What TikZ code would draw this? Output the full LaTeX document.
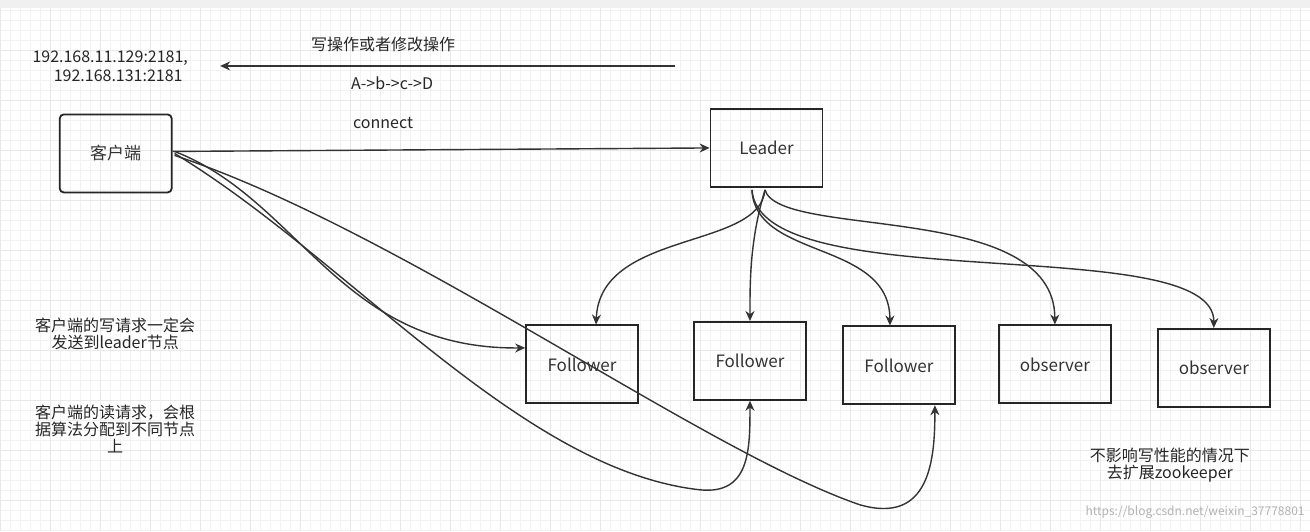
\documentclass[tikz,border=0pt]{standalone}
\usepackage{fontspec}
\setmainfont{Noto Sans CJK SC}
\usetikzlibrary{arrows.meta}
\begin{document}
\begin{tikzpicture}[x=1pt,y=-1pt,
  box/.style={draw=black!85,line width=1.8pt,minimum width=112pt,minimum height=78pt,inner sep=0pt,font=\fontsize{17}{19}\selectfont,text=black!80},
  con/.style={draw=black!80,line width=1.4pt,-{Stealth[length=10pt,width=9pt]}},
  lbl/.style={font=\fontsize{16}{17}\selectfont,text=black!85,inner sep=0pt}]
\fill[white] (0,0) rectangle (1310,531);
\fill[black!6] (0,0) rectangle (1310,8);
\foreach \x in {0,10,...,1310} \draw[black!5,line width=0.4pt] (\x,8) -- (\x,531);
\foreach \y in {10,20,...,530} \draw[black!5,line width=0.4pt] (0,\y) -- (1310,\y);
\foreach \x in {0,50,...,1310} \draw[black!9,line width=0.5pt] (\x,8) -- (\x,531);
\foreach \y in {50,100,...,530} \draw[black!9,line width=0.5pt] (0,\y) -- (1310,\y);
\useasboundingbox (0,0) rectangle (1310,531);

\node[box,rounded corners=4pt] (c) at (115.5,153.5) {客户端};
\node[box] (L) at (766.5,148) {Leader};
\node[box] (f1) at (582,364.5) {Follower};
\node[box] (f2) at (750,361) {Follower};
\node[box] (f3) at (899,365.5) {Follower};
\node[box] (o1) at (1055,364.5) {observer};
\node[box] (o2) at (1214,368) {observer};

\node[lbl] (ip1) at (110,58) {192.168.11.129:2181,};
\node[lbl] (ip2) at (118,76) {192.168.131:2181};
\node[lbl] (w) at (383,44) {写操作或者修改操作};
\node[lbl] (abcd) at (392,83) {A->b->c->D};
\node[lbl] (cn) at (383,123) {connect};
\coordinate (a1) at (675,66);
\coordinate (a2) at (220,66);
\draw[con] (a1) -- (a2);
\draw[con] (c.east) ++(0,-2) -- (L.west);

\node[lbl,align=center] (t1) at (115,334) {客户端的写请求一定会\\发送到leader节点};
\node[lbl,align=center] (t2) at (115,429) {客户端的读请求，会根\\据算法分配到不同节点\\上};
\node[lbl,align=center] (t3) at (1170,465) {不影响写性能的情况下\\去扩展zookeeper};
\node[font=\fontsize{12}{14}\selectfont,text=black!30,inner sep=0pt,anchor=east] (wm) at (1305,512) {https://blog.csdn.net/weixin\_37778801};

\coordinate (ls) at (765,190);
\draw[con] (ls) .. controls (760,250) and (600,230) .. (f1.north-|596,0);
\draw[con] (765,190) .. controls (750,240) and (750,280) .. (f2.north);
\draw[con] (752,190) .. controls (755,260) and (890,240) .. (f3.north-|890,0);
\draw[con] (765,190) .. controls (780,240) and (1055,200) .. (o1.north);
\draw[con] (752,190) .. controls (760,300) and (1215,230) .. (o2.north);

\draw[con] (c.east)++(2,-2) .. controls (300,200) and (340,350) .. (f1.west|-0,348);
\draw[con] (c.east)++(2,0) .. controls (350,260) and (520,470) .. (700,490) .. controls (750,495) and (750,450) .. (f2.south);
\draw[con] (c.east)++(2,2) .. controls (400,230) and (700,450) .. (860,505) .. controls (930,525) and (935,460) .. (f3.south-|935,0);
\end{tikzpicture}
\end{document}
